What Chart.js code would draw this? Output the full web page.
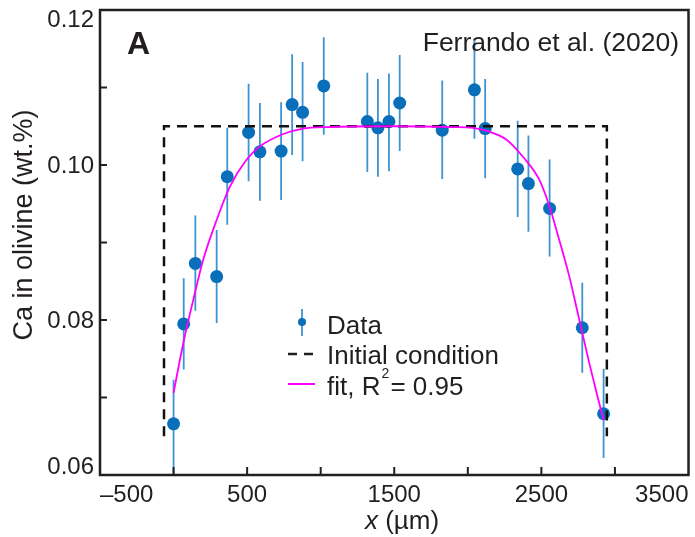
<!DOCTYPE html>
<html>
<head>
<meta charset="utf-8">
<script src="https://cdn.jsdelivr.net/npm/chart.js@4.4.1/dist/chart.umd.min.js"></script>
<style>
body{margin:0;background:#fff;}
</style>
</head>
<body>
<canvas id="chart" width="695" height="537"></canvas>
<script>
// measured points (x in µm, Ca in wt.%)
const dataX = [0, 69, 148, 293, 365, 510, 587, 731, 806, 877, 1021, 1317, 1389, 1464, 1537, 1826, 2045, 2118, 2339, 2412, 2556, 2778, 2923];
const dataY = [0.0666, 0.0795, 0.0873, 0.0856, 0.0985, 0.1042, 0.1017, 0.1018, 0.1078, 0.1068, 0.1102, 0.1056, 0.1048, 0.1056, 0.1080, 0.1045, 0.1097, 0.1047, 0.0995, 0.0976, 0.0944, 0.0790, 0.0679];
const errTop = [0.0723, 0.0854, 0.0935, 0.0916, 0.1048, 0.1105, 0.1080, 0.1081, 0.1143, 0.1133, 0.1165, 0.1119, 0.1111, 0.1118, 0.1142, 0.1109, 0.1160, 0.1111, 0.1057, 0.1038, 0.1007, 0.0848, 0.0737];
const errBottom = [0.0600, 0.0736, 0.0812, 0.0796, 0.0923, 0.0979, 0.0954, 0.0955, 0.1013, 0.1005, 0.1039, 0.0991, 0.0985, 0.0992, 0.1018, 0.0982, 0.1034, 0.0983, 0.0933, 0.0914, 0.0882, 0.0732, 0.0622];

// fitted diffusion profile
const fitX = [0, 66, 134, 202, 293, 383, 497, 587, 745, 881, 1039, 1500, 1900, 2034, 2147, 2261, 2373, 2486, 2554, 2622, 2690, 2758, 2826, 2882, 2923];
const fitY = [0.0706, 0.0770, 0.0826, 0.0878, 0.0929, 0.0972, 0.1007, 0.1024, 0.1040, 0.1047, 0.1049, 0.1050, 0.1049, 0.1048, 0.1043, 0.1033, 0.1011, 0.0981, 0.0947, 0.0903, 0.0856, 0.0800, 0.0744, 0.0701, 0.0671];

// initial condition box
const initX = [-65, -65, 2945, 2945];
const initY = [0.065, 0.105, 0.105, 0.065];

const xTickLabels = [-500, 500, 1500, 2500, 3500];
const yTickLabels = [0.06, 0.08, 0.10, 0.12];

const ink = '#231f20';
const dotColor = '#0a6fba';
const barColor = '#3c94d2';
const fitColor = '#ff00ff';
const fam = '"Liberation Sans", Arial, sans-serif';

const errorBars = {
id:'errorBars',
beforeDatasetsDraw(chart){
const {ctx, scales:{x, y}, chartArea:a} = chart;
ctx.save();
ctx.beginPath();
ctx.rect(a.left, a.top, a.width, a.height);
ctx.clip();
ctx.strokeStyle = barColor;
ctx.lineWidth = 1.8;
dataX.forEach((v, i) => {
const px = x.getPixelForValue(v);
ctx.beginPath();
ctx.moveTo(px, y.getPixelForValue(errBottom[i]));
ctx.lineTo(px, y.getPixelForValue(errTop[i]));
ctx.stroke();
});
ctx.restore();
}
};

const frame = {
id:'frame',
afterDraw(chart){
const {ctx, scales:{x, y}, chartArea:a} = chart;
ctx.save();
ctx.strokeStyle = ink;
ctx.lineWidth = 2.5;
ctx.strokeRect(a.left, a.top, a.width, a.height);

// inward tick marks
ctx.lineWidth = 2;
x.ticks.forEach(t => {
if(t.value <= x.min || t.value >= x.max) return;
const px = x.getPixelForValue(t.value);
ctx.beginPath();
ctx.moveTo(px, a.bottom);
ctx.lineTo(px, a.bottom - 8);
ctx.stroke();
});
y.ticks.forEach(t => {
if(t.value <= y.min + 1e-9 || t.value >= y.max - 1e-9) return;
const py = y.getPixelForValue(t.value);
ctx.beginPath();
ctx.moveTo(a.left, py);
ctx.lineTo(a.left + 7, py);
ctx.stroke();
});

// y tick labels, end labels kept inside the frame
ctx.fillStyle = ink;
ctx.font = '24px ' + fam;
ctx.textAlign = 'right';
ctx.textBaseline = 'middle';
yTickLabels.forEach(v => {
let py = y.getPixelForValue(v);
if(v === y.max) py += 10;
else if(v === y.min) py -= 8;
else py += 1;
ctx.fillText(v.toFixed(2), a.left - 6, py);
});

// axis titles
ctx.font = '27px ' + fam;
ctx.textAlign = 'center';
ctx.save();
ctx.translate(25, 225);
ctx.rotate(-Math.PI / 2);
ctx.fillText('Ca in olivine (wt.%)', 0, 0);
ctx.restore();

ctx.textAlign = 'left';
ctx.textBaseline = 'alphabetic';
ctx.font = 'italic 26px ' + fam;
const wx = ctx.measureText('x').width;
ctx.font = '26px ' + fam;
const wr = ctx.measureText(' (µm)').width;
const sx = 402 - (wx + wr) / 2;
ctx.font = 'italic 26px ' + fam;
ctx.fillText('x', sx, 529);
ctx.font = '26px ' + fam;
ctx.fillText(' (µm)', sx + wx, 529);

// panel letter and source
ctx.font = 'bold 32px ' + fam;
ctx.fillText('A', 127, 54);
ctx.font = '26.5px ' + fam;
ctx.textAlign = 'right';
ctx.fillText('Ferrando et al. (2020)', 679, 51);

// legend
ctx.strokeStyle = barColor;
ctx.lineWidth = 1.8;
ctx.beginPath();
ctx.moveTo(302, 309);
ctx.lineTo(302, 336);
ctx.stroke();
ctx.fillStyle = dotColor;
ctx.beginPath();
ctx.arc(302, 322, 4, 0, Math.PI * 2);
ctx.fill();

ctx.strokeStyle = ink;
ctx.lineWidth = 2.5;
ctx.beginPath();
ctx.moveTo(288, 354); ctx.lineTo(297, 354);
ctx.moveTo(304, 354); ctx.lineTo(313, 354);
ctx.stroke();

ctx.strokeStyle = fitColor;
ctx.lineWidth = 2;
ctx.beginPath();
ctx.moveTo(288, 384);
ctx.lineTo(315, 384);
ctx.stroke();

ctx.fillStyle = ink;
ctx.textAlign = 'left';
ctx.font = '26px ' + fam;
ctx.fillText('Data', 327, 334);
ctx.fillText('Initial condition', 327, 364);
ctx.fillText('fit, R', 327, 395);
let w = ctx.measureText('fit, R').width;
ctx.font = '14px ' + fam;
ctx.fillText('2', 327 + w + 1, 378);
ctx.font = '26px ' + fam;
ctx.fillText('= 0.95', 327 + w + 10, 395);
ctx.restore();
}
};

const ctx = document.getElementById('chart');

new Chart(ctx, {
type:'scatter',
data:{
datasets:[
{
label:'fit, R2 = 0.95',
data:fitX.map((v, i) => ({x:v, y:fitY[i]})),
showLine:true,
borderColor:fitColor,
borderWidth:1.8,
cubicInterpolationMode:'monotone',
pointRadius:0,
order:0
},
{
label:'Initial condition',
data:initX.map((v, i) => ({x:v, y:initY[i]})),
showLine:true,
borderColor:'#111',
borderWidth:2.5,
borderDash:[10, 7],
pointRadius:0,
order:1
},
{
label:'Data',
data:dataX.map((v, i) => ({x:v, y:dataY[i]})),
backgroundColor:dotColor,
borderWidth:0,
pointRadius:6.5,
order:2
}
]
},
options:{
responsive:false,
animation:false,
layout:{padding:{top:10, right:5, left:0, bottom:0}},
plugins:{
legend:{display:false},
tooltip:{enabled:false}
},
scales:{
x:{
type:'linear',
min:-500,
max:3500,
afterFit(s){ s.height = 62; },
border:{display:false},
grid:{display:false, drawTicks:false},
ticks:{
stepSize:500,
autoSkip:false,
maxRotation:0,
align:'inner',
padding:6,
color:ink,
font:{family:fam, size:24},
callback:v => xTickLabels.includes(v) ? String(v).replace('-', '\u2013') : ''
}
},
y:{
type:'linear',
min:0.06,
max:0.12,
afterFit(s){ s.width = 100; },
border:{display:false},
grid:{display:false, drawTicks:false},
ticks:{display:false, stepSize:0.01}
}
}
},
plugins:[errorBars, frame]
});
</script>
</body>
</html>
